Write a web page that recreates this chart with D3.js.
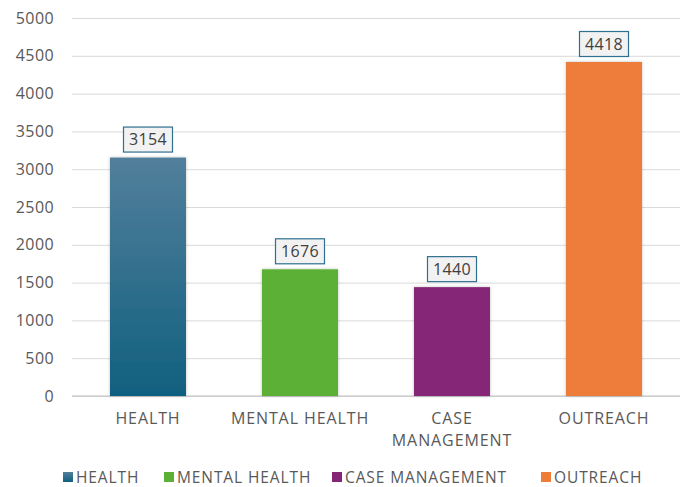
<!DOCTYPE html>
<html>
<head>
<meta charset="utf-8">
<script src="https://cdn.jsdelivr.net/npm/d3@7"></script>
<style>
  body { margin: 0; background: #fff; }
  text { font-family: "Open Sans", "Liberation Sans", sans-serif; }
</style>
</head>
<body>
<div id="chart"></div>
<script>
var categories = ["HEALTH", "MENTAL HEALTH", "CASE MANAGEMENT", "OUTREACH"];
var axisLabels = [["HEALTH"], ["MENTAL HEALTH"], ["CASE", "MANAGEMENT"], ["OUTREACH"]];
var values = [3154, 1676, 1440, 4418];
var colors = ["#10607F", "#5BB035", "#852576", "#EE7C3A"];
var yTicks = [0, 500, 1000, 1500, 2000, 2500, 3000, 3500, 4000, 4500, 5000];

var svgWidth = 689;
var svgHeight = 487;
var margin = { top: 18, right: 9, bottom: 91, left: 72 };
var width = svgWidth - margin.left - margin.right;
var height = svgHeight - margin.top - margin.bottom;

var svg = d3.select("#chart").append("svg")
  .attr("width", svgWidth)
  .attr("height", svgHeight);

var defs = svg.append("defs");
var grad = defs.append("linearGradient")
  .attr("id", "healthGrad")
  .attr("x1", 0).attr("y1", 0).attr("x2", 0).attr("y2", 1);
grad.append("stop").attr("offset", "0%").attr("stop-color", "#527F9B");
grad.append("stop").attr("offset", "100%").attr("stop-color", "#10607F");

var shadow = defs.append("filter").attr("id", "shadow")
  .attr("x", "-10%").attr("y", "-10%").attr("width", "120%").attr("height", "120%");
shadow.append("feDropShadow")
  .attr("dx", 0).attr("dy", 0).attr("stdDeviation", 1.5)
  .attr("flood-color", "#000").attr("flood-opacity", 0.25);

var chartGroup = svg.append("g")
  .attr("transform", `translate(${margin.left}, ${margin.top})`);

var x = d3.scaleBand()
  .domain(categories)
  .range([0, width])
  .paddingInner(0.5)
  .paddingOuter(0.25);

var y = d3.scaleLinear()
  .domain([0, 5000])
  .range([height, 0]);

// gridlines + y labels
var yAxis = d3.axisLeft(y)
  .tickValues(yTicks)
  .tickFormat(d3.format("d"))
  .tickSize(-width)
  .tickPadding(18);

chartGroup.append("g")
  .call(yAxis)
  .call(g => g.select(".domain").remove())
  .call(g => g.selectAll(".tick line").attr("stroke", "#d9d9d9"))
  .call(g => g.selectAll(".tick text")
    .attr("fill", "#595959")
    .style("font-size", "16px")
    .style("letter-spacing", "0.4px"));

// baseline
chartGroup.append("line")
  .attr("x1", 0).attr("x2", width)
  .attr("y1", height).attr("y2", height)
  .attr("stroke", "#bfbfbf");

// bars
chartGroup.selectAll(".bar")
  .data(values)
  .enter()
  .append("rect")
  .attr("class", "bar")
  .attr("x", (d, i) => x(categories[i]))
  .attr("y", d => y(d))
  .attr("width", x.bandwidth())
  .attr("height", d => height - y(d))
  .attr("fill", (d, i) => i === 0 ? "url(#healthGrad)" : colors[i])
  .attr("filter", "url(#shadow)");

// data labels in boxes
var labels = chartGroup.selectAll(".dlabel")
  .data(values)
  .enter()
  .append("g")
  .attr("class", "dlabel")
  .attr("transform", (d, i) => `translate(${x(categories[i]) + x.bandwidth() / 2}, ${y(d) - 18})`);

labels.append("rect")
  .attr("x", -24.5)
  .attr("y", -12.5)
  .attr("width", 49)
  .attr("height", 25)
  .attr("fill", "#f2f2f2")
  .attr("stroke", "#2f6f8f")
  .attr("stroke-width", 1.2);

labels.append("text")
  .attr("text-anchor", "middle")
  .attr("dy", "0.36em")
  .attr("fill", "#404040")
  .style("font-size", "16px")
  .style("letter-spacing", "0.4px")
  .text(d => d);

// category labels
var catGroup = chartGroup.append("g")
  .attr("transform", `translate(0, ${height})`);

axisLabels.forEach(function(lines, i) {
  var t = catGroup.append("text")
    .attr("x", x(categories[i]) + x.bandwidth() / 2)
    .attr("y", 28)
    .attr("text-anchor", "middle")
    .attr("fill", "#595959")
    .style("font-size", "16px")
    .style("letter-spacing", "0.9px");
  lines.forEach(function(line, j) {
    t.append("tspan")
      .attr("x", x(categories[i]) + x.bandwidth() / 2)
      .attr("dy", j === 0 ? 0 : 22)
      .text(line);
  });
});

// legend
var legendX = [63, 164, 332, 541];
var legend = svg.append("g")
  .attr("transform", "translate(0, 477)");

categories.forEach(function(c, i) {
  var item = legend.append("g")
    .attr("transform", `translate(${legendX[i]}, 0)`);
  item.append("rect")
    .attr("x", 0).attr("y", -5)
    .attr("width", 10).attr("height", 10)
    .attr("fill", i === 0 ? "url(#healthGrad)" : colors[i]);
  item.append("text")
    .attr("x", 13)
    .attr("dy", "0.36em")
    .attr("fill", "#595959")
    .style("font-size", "15.5px")
    .style("letter-spacing", "0.9px")
    .text(c);
});
</script>
</body>
</html>
